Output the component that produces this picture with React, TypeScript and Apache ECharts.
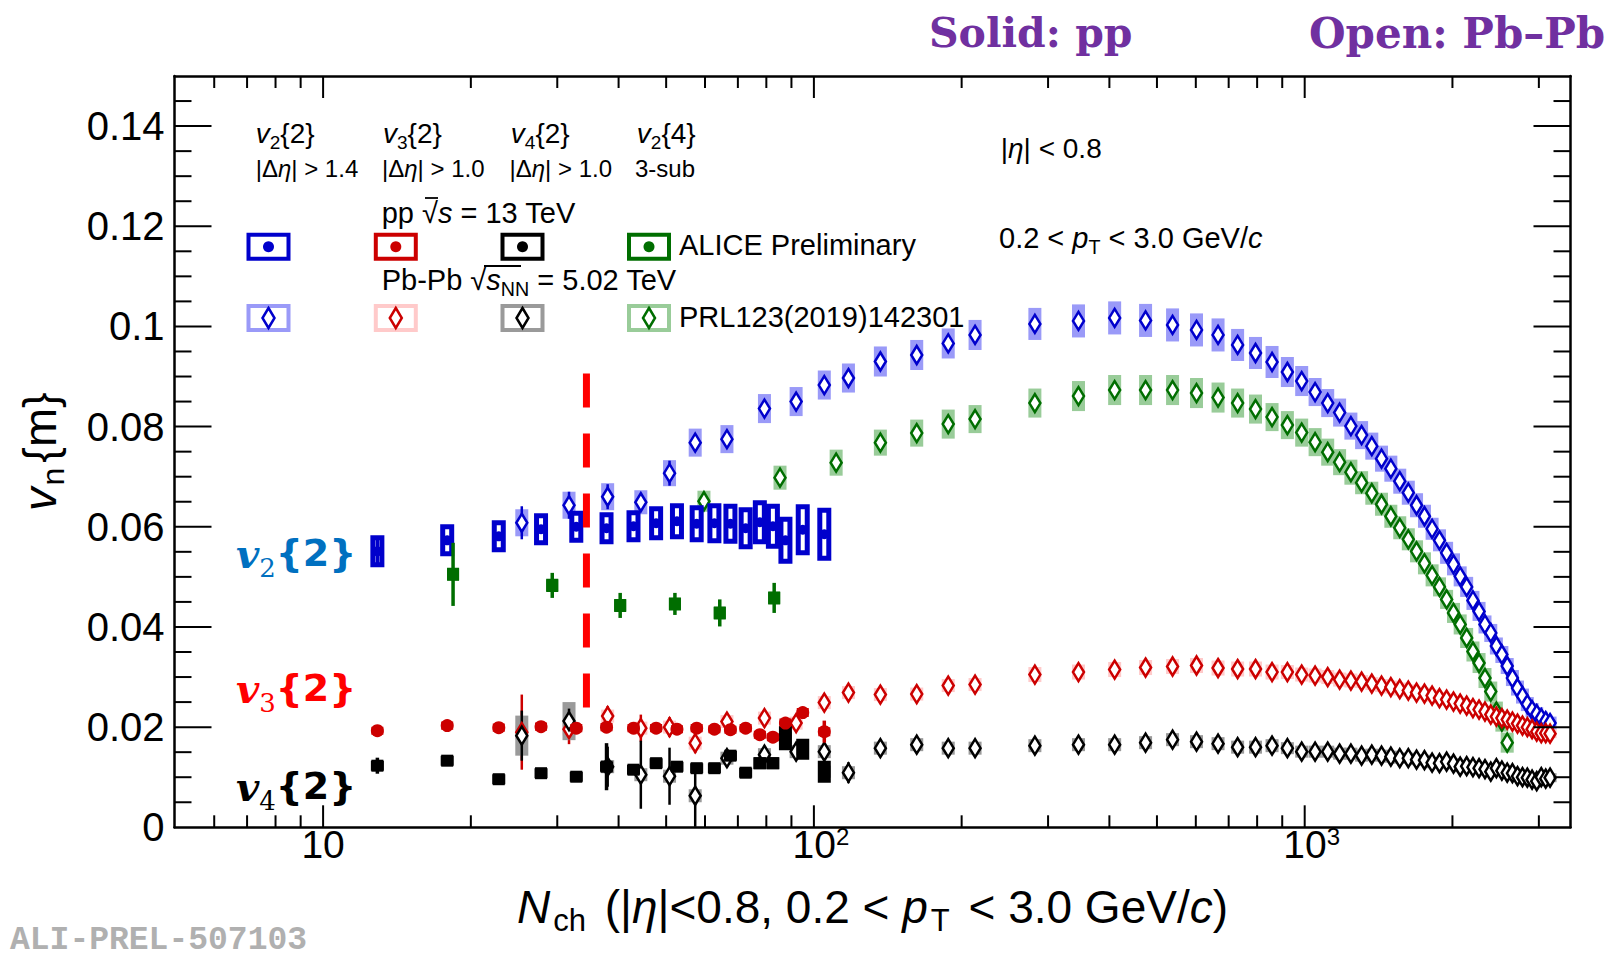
import { useEffect, useRef } from 'react';
import * as echarts from 'echarts';

const SANS = '"Liberation Sans", Arial, Helvetica, sans-serif';

// axis ranges
const X_MIN = 4.98;
const X_MAX = 3480;
const Y_MAX = 0.15;

// tick positions
const xMajorTicks = [10, 100, 1000];
const xMinorTicks = [6, 7, 8, 9, 20, 30, 40, 50, 60, 70, 80, 90, 200, 300, 400, 500, 600, 700, 800, 900, 2000, 3000];
const yMajorTicks = [0.02, 0.04, 0.06, 0.08, 0.1, 0.12, 0.14];
const yMinorTicks = [0.005, 0.01, 0.015, 0.025, 0.03, 0.035, 0.045, 0.05, 0.055, 0.065, 0.07, 0.075, 0.085, 0.09, 0.095, 0.105, 0.11, 0.115, 0.125, 0.13, 0.135, 0.145];

// ---- pp, sqrt(s) = 13 TeV (ALICE Preliminary) ----
const ppN = [12.9, 17.9, 22.8, 27.8, 32.8, 37.8, 42.9, 47.7, 52.6, 57.7, 62.7, 67.6, 72.6, 77.6, 82.5, 87.5, 94.9, 105];
const ppV22 = [0.0551, 0.0573, 0.0581, 0.0595, 0.0600, 0.0597, 0.0601, 0.0607, 0.0611, 0.0606, 0.0607, 0.0606, 0.0597, 0.0609, 0.0601, 0.0573, 0.0594, 0.0585];
const ppV22Stat = [0.0025, 0.0008, 0.0008, 0.0008, 0.0008, 0.0008, 0.0008, 0.0008, 0.0008, 0.0008, 0.0008, 0.0008, 0.0008, 0.0008, 0.0008, 0.0008, 0.0008, 0.0008];
const ppV22Sys = [0.0027, 0.0027, 0.0027, 0.0027, 0.0027, 0.0027, 0.0027, 0.0029, 0.0031, 0.0032, 0.0035, 0.0035, 0.0037, 0.0039, 0.0040, 0.0042, 0.0046, 0.0048];

const ppV32 = [0.0193, 0.0203, 0.0199, 0.0201, 0.0198, 0.0200, 0.0198, 0.0198, 0.0196, 0.0198, 0.0196, 0.0195, 0.0198, 0.0185, 0.0180, 0.0208, 0.0229, 0.0191];
const ppV32Stat = [0.0005, 0.0005, 0.0005, 0.0005, 0.0005, 0.0005, 0.0005, 0.0005, 0.0005, 0.0005, 0.0005, 0.0005, 0.0005, 0.0005, 0.0005, 0.0010, 0.0010, 0.0022];
const ppV32Sys = [0.0005, 0.0005, 0.0005, 0.0005, 0.0005, 0.0005, 0.0005, 0.0005, 0.0005, 0.0005, 0.0005, 0.0005, 0.0005, 0.0005, 0.0005, 0.0006, 0.0006, 0.0006];

const ppV42 = [0.0123, 0.0133, 0.0096, 0.0108, 0.0101, 0.0121, 0.0115, 0.0128, 0.0121, 0.0118, 0.0118, 0.0143, 0.0109, 0.0128, 0.0128, 0.0178, 0.0156, 0.0111];
const ppV42Stat = [0.0016, 0.0006, 0.0006, 0.0006, 0.0006, 0.0047, 0.0006, 0.0008, 0.0006, 0.0006, 0.0006, 0.0008, 0.0006, 0.0006, 0.0006, 0.0006, 0.0006, 0.0020];
const ppV42Sys = [0.0006, 0.0006, 0.0006, 0.0006, 0.0006, 0.0006, 0.0006, 0.0006, 0.0006, 0.0006, 0.0006, 0.0006, 0.0006, 0.0008, 0.0008, 0.0020, 0.0017, 0.0018];

const ppV24N = [18.4, 29.3, 40.3, 52.1, 64.3, 83.0];
const ppV24 = [0.0505, 0.0483, 0.0443, 0.0446, 0.0428, 0.0458];
const ppV24Stat = [0.0063, 0.0025, 0.0025, 0.0022, 0.0027, 0.0030];
const ppV24Sys = [0.0010, 0.0010, 0.0010, 0.0010, 0.0010, 0.0010];

// ---- Pb-Pb, sqrt(s_NN) = 5.02 TeV, PRL123(2019)142301 ----
const pbN = [
  25.4, 31.7, 38.0, 44.4, 50.8, 57.3, 66.5, 79.3, 92.0, 105, 117.6, 136.6, 162, 187.8, 213,
  282, 346, 410, 474, 538, 602, 666, 730, 794, 858,
  922, 986, 1050, 1114, 1178, 1242, 1306, 1370, 1434, 1498,
  1562, 1626, 1690, 1754, 1818, 1882, 1946, 2010, 2074, 2138,
  2202, 2266, 2330, 2394, 2458, 2522, 2586, 2650, 2714, 2778,
  2842, 2906, 2970, 3034, 3098, 3162,
];
const pbV22 = [
  0.0608, 0.0643, 0.0660, 0.0649, 0.0707, 0.0768, 0.0775, 0.0836, 0.0850, 0.0883, 0.0897, 0.0930, 0.0943, 0.0966, 0.0983,
  0.1005, 0.1011, 0.1017, 0.1012, 0.1003, 0.0993, 0.0983, 0.0963, 0.0947, 0.0929,
  0.0909, 0.0891, 0.0869, 0.0847, 0.0828, 0.0801, 0.0783, 0.0761, 0.0736, 0.0716,
  0.0691, 0.0668, 0.0643, 0.0621, 0.0596, 0.0573, 0.0548, 0.0525, 0.0501, 0.0480,
  0.0453, 0.0431, 0.0405, 0.0388, 0.0362, 0.0345, 0.0322, 0.0298, 0.0278, 0.0262,
  0.0246, 0.0234, 0.0226, 0.0218, 0.0212, 0.0208,
];
const pbV22StatLow = [0.0033, 0.0027, 0.0025, 0.0012, 0.0025, 0.0012, 0.0010, 0.0010, 0.0010, 0.0010, 0.0010, 0.0008, 0.0008, 0.0008, 0.0008];
const pbV22Sys = [
  0.0027, 0.0027, 0.0027, 0.0024, 0.0026, 0.0028, 0.0028, 0.0029, 0.0029, 0.0029, 0.0029, 0.0030, 0.0030, 0.0030, 0.0030,
  0.0032, 0.0033, 0.0033, 0.0033, 0.0033, 0.0033, 0.0033, 0.0032, 0.0032, 0.0032,
  0.0030, 0.0030, 0.0028, 0.0028, 0.0028, 0.0027, 0.0028, 0.0027, 0.0026, 0.0026,
  0.0025, 0.0024, 0.0024, 0.0023, 0.0022, 0.0022, 0.0022, 0.0022, 0.0020, 0.0020,
  0.0019, 0.0019, 0.0018, 0.0018, 0.0017, 0.0017, 0.0016, 0.0016, 0.0015, 0.0015,
  0.0014, 0.0014, 0.0014, 0.0013, 0.0013, 0.0013,
];
const pbV32 = [
  0.0190, 0.0196, 0.0222, 0.0198, 0.0200, 0.0168, 0.0211, 0.0218, 0.0208, 0.0249, 0.0269, 0.0265, 0.0266, 0.0283, 0.0285,
  0.0305, 0.0310, 0.0315, 0.0319, 0.0321, 0.0323, 0.0318, 0.0316, 0.0316, 0.0310,
  0.0310, 0.0305, 0.0303, 0.0300, 0.0295, 0.0293, 0.0291, 0.0287, 0.0283, 0.0280,
  0.0276, 0.0273, 0.0269, 0.0267, 0.0263, 0.0258, 0.0255, 0.0251, 0.0247, 0.0243,
  0.0238, 0.0235, 0.0231, 0.0225, 0.0221, 0.0218, 0.0215, 0.0211, 0.0207, 0.0203,
  0.0200, 0.0196, 0.0191, 0.0188, 0.0188, 0.0187,
];
const pbV32StatLow = [0.0075, 0.0030, 0.0020, 0.0027, 0.0020, 0.0020, 0.0012, 0.0010, 0.0010, 0.0010, 0.0008, 0.0005, 0.0005, 0.0005, 0.0005];
const pbV32Sys = [
  0.0013, 0.0013, 0.0013, 0.0013, 0.0013, 0.0013, 0.0013, 0.0013, 0.0013, 0.0013, 0.0013, 0.0013, 0.0013, 0.0013, 0.0013,
  0.0015, 0.0015, 0.0015, 0.0015, 0.0015, 0.0015, 0.0015, 0.0015, 0.0015, 0.0015,
  0.0014, 0.0014, 0.0014, 0.0014, 0.0014, 0.0014, 0.0013, 0.0013, 0.0013, 0.0013,
  0.0013, 0.0012, 0.0012, 0.0012, 0.0012, 0.0012, 0.0012, 0.0011, 0.0011, 0.0011,
  0.0011, 0.0011, 0.0011, 0.0010, 0.0010, 0.0010, 0.0010, 0.0010, 0.0010, 0.0010,
  0.0009, 0.0009, 0.0009, 0.0009, 0.0009, 0.0009,
];
const pbV42 = [
  0.0183, 0.0212, 0.0121, 0.0105, 0.0102, 0.0063, 0.0138, 0.0145, 0.0151, 0.0151, 0.0109, 0.0158, 0.0165, 0.0158, 0.0158,
  0.0163, 0.0165, 0.0165, 0.0169, 0.0175, 0.0171, 0.0167, 0.0160, 0.0160, 0.0163,
  0.0158, 0.0151, 0.0151, 0.0151, 0.0147, 0.0147, 0.0143, 0.0145, 0.0143, 0.0141,
  0.0138, 0.0138, 0.0135, 0.0134, 0.0129, 0.0128, 0.0131, 0.0127, 0.0121, 0.0122,
  0.0120, 0.0118, 0.0116, 0.0111, 0.0118, 0.0113, 0.0109, 0.0108, 0.0102, 0.0100,
  0.0099, 0.0095, 0.0092, 0.0100, 0.0097, 0.0099,
];
const pbV42StatLow = [0.0050, 0.0025, 0.0040, 0.0068, 0.0057, 0.0062, 0.0018, 0.0015, 0.0010, 0.0010, 0.0021, 0.0006, 0.0006, 0.0006, 0.0006];
const pbV42Sys = [
  0.0040, 0.0038, 0.0013, 0.0013, 0.0013, 0.0013, 0.0013, 0.0013, 0.0013, 0.0013, 0.0013, 0.0013, 0.0013, 0.0013, 0.0013,
  0.0013, 0.0013, 0.0013, 0.0013, 0.0013, 0.0013, 0.0013, 0.0013, 0.0013, 0.0013,
  0.0012, 0.0012, 0.0012, 0.0012, 0.0012, 0.0012, 0.0012, 0.0012, 0.0012, 0.0012,
  0.0011, 0.0011, 0.0011, 0.0011, 0.0011, 0.0011, 0.0011, 0.0011, 0.0011, 0.0011,
  0.0010, 0.0010, 0.0010, 0.0010, 0.0010, 0.0010, 0.0010, 0.0010, 0.0010, 0.0010,
  0.0009, 0.0009, 0.0009, 0.0009, 0.0009, 0.0009,
];
const pbV24N = [
  59.7, 85.3, 111, 136.6, 162, 187.8, 213,
  282, 346, 410, 474, 538, 602, 666, 730, 794, 858,
  922, 986, 1050, 1114, 1178, 1242, 1306, 1370, 1434, 1498,
  1562, 1626, 1690, 1754, 1818, 1882, 1946, 2010, 2074, 2138,
  2202, 2266, 2330, 2394, 2458, 2522, 2586,
];
const pbV24 = [
  0.0651, 0.0698, 0.0728, 0.0768, 0.0787, 0.0805, 0.0815,
  0.0847, 0.0861, 0.0873, 0.0873, 0.0873, 0.0867, 0.0858, 0.0847, 0.0835, 0.0819,
  0.0803, 0.0788, 0.0769, 0.0749, 0.0729, 0.0709, 0.0688, 0.0667, 0.0645, 0.0621,
  0.0598, 0.0575, 0.0551, 0.0527, 0.0503, 0.0480, 0.0455, 0.0428, 0.0405, 0.0378,
  0.0351, 0.0328, 0.0298, 0.0271, 0.0231, 0.0211, 0.0169,
];
const pbV24StatLow = [0.0010, 0.0012, 0.0010, 0.0008, 0.0008, 0.0008, 0.0008];
const pbV24Sys = [
  0.0021, 0.0024, 0.0026, 0.0026, 0.0027, 0.0029, 0.0028,
  0.0029, 0.0030, 0.0030, 0.0030, 0.0030, 0.0030, 0.0030, 0.0029, 0.0029, 0.0028,
  0.0028, 0.0028, 0.0028, 0.0027, 0.0026, 0.0025, 0.0023, 0.0023, 0.0023, 0.0023,
  0.0023, 0.0022, 0.0022, 0.0022, 0.0022, 0.0019, 0.0019, 0.0020, 0.0020, 0.0020,
  0.0020, 0.0020, 0.0020, 0.0020, 0.0020, 0.0020, 0.0020,
];

// vertical marker line (dashed, red)
const cutN = [34.4, 34.4];
const cutV = [0.0906, 0.0231];

const C = {
  blue: '#0000cc', blueBox: '#9a9af8', blueText: '#0070c0',
  red: '#cc0000', redBox: '#ffcaca', redText: '#ff0000',
  black: '#000000', grayBox: '#9a9a9a',
  green: '#006e00', greenBox: '#99cc99',
  purple: '#7030a0',
};

type Pt = [number, number, number, number];
const zip = (n: number[], v: number[], st: number[], sy: number[]): Pt[] =>
  n.map((x, i) => [x, v[i], st[i] ?? 0, sy[i] ?? 0]);

function boxSeries(name: string, data: Pt[], o: any) {
  return {
    type: 'custom', name, data, silent: true, encode: { x: 0, y: 1 },
    renderItem: (_p: any, api: any) => {
      const n = api.value(0), v = api.value(1), st = api.value(2), sy = api.value(3);
      const c = api.coord([n, v]);
      const children: any[] = [];
      if (sy > 0) {
        const yt = api.coord([n, v + sy])[1];
        const yb = api.coord([n, v - sy])[1];
        children.push({
          type: 'rect',
          shape: { x: c[0] - o.w / 2, y: yt, width: o.w, height: yb - yt },
          style: { fill: o.fill, stroke: o.stroke || 'none', lineWidth: o.lineWidth || 0 },
        });
      }
      if (st > 0) {
        const yt = api.coord([n, v + st])[1];
        const yb = api.coord([n, Math.max(v - st, 0)])[1];
        children.push({ type: 'line', shape: { x1: c[0], y1: yt, x2: c[0], y2: yb }, style: { stroke: o.bar, lineWidth: o.barWidth } });
      }
      return { type: 'group', children };
    },
  };
}

function markerSeries(name: string, data: Pt[], shape: string, o: any) {
  return {
    type: 'custom', name, data, silent: true, encode: { x: 0, y: 1 },
    renderItem: (_p: any, api: any) => {
      const c = api.coord([api.value(0), api.value(1)]);
      if (shape === 'diamond') {
        return {
          type: 'polygon',
          shape: { points: [[c[0], c[1] - o.h / 2], [c[0] + o.w / 2, c[1]], [c[0], c[1] + o.h / 2], [c[0] - o.w / 2, c[1]]] },
          style: { fill: '#ffffff', stroke: o.color, lineWidth: o.lw },
        };
      }
      if (shape === 'circle') {
        return { type: 'circle', shape: { cx: c[0], cy: c[1], r: o.r }, style: { fill: o.color } };
      }
      return { type: 'rect', shape: { x: c[0] - o.s / 2, y: c[1] - o.s / 2, width: o.s, height: o.s }, style: { fill: o.color } };
    },
  };
}

function tickSeries(data: number[][], dir: 'x' | 'y') {
  return {
    type: 'custom', silent: true, z: 5, data, encode: { x: 0, y: 1 },
    renderItem: (params: any, api: any) => {
      const cs = params.coordSys;
      const major = api.value(2) === 1;
      const st = { stroke: '#000', lineWidth: 2 };
      if (dir === 'x') {
        const px = api.coord([api.value(0), 0.05])[0];
        const len = major ? 22 : 12;
        return {
          type: 'group', children: [
            { type: 'line', shape: { x1: px, y1: cs.y + cs.height, x2: px, y2: cs.y + cs.height - len }, style: st },
            { type: 'line', shape: { x1: px, y1: cs.y, x2: px, y2: cs.y + len }, style: st },
          ],
        };
      }
      const py = api.coord([10, api.value(1)])[1];
      const len = major ? 37 : 17;
      return {
        type: 'group', children: [
          { type: 'line', shape: { x1: cs.x, y1: py, x2: cs.x + len, y2: py }, style: st },
          { type: 'line', shape: { x1: cs.x + cs.width, y1: py, x2: cs.x + cs.width - len, y2: py }, style: st },
        ],
      };
    },
  };
}

// ROOT-like rich text styles
const latexRich = (fs: number, fill = '#000') => ({
  i: { fontFamily: SANS, fontStyle: 'italic', fontSize: fs, lineHeight: fs * 1.3, fill },
  s: { fontFamily: SANS, fontSize: fs * 0.68, lineHeight: fs * 0.62, verticalAlign: 'bottom', fill },
});

const text = (x: number, y: number, str: string, style: any = {}) => ({
  type: 'text', x, y, silent: true, z: 10,
  style: {
    text: str, fontFamily: SANS, fontSize: 29, fill: '#000', align: 'left', verticalAlign: 'middle',
    lineHeight: 38, rich: latexRich(style.fontSize || 29, style.fill || '#000'), ...style,
  },
});

const overbar = (x1: number, x2: number, y: number) => ({
  type: 'line', silent: true, z: 10, shape: { x1, y1: y, x2, y2: y }, style: { stroke: '#000', lineWidth: 1.8 },
});

const legendBox = (cx: number, cy: number, stroke: string) => ({
  type: 'rect', z: 10, silent: true, shape: { x: cx - 20, y: cy - 12, width: 40, height: 24 },
  style: { fill: '#fff', stroke, lineWidth: 4 },
});
const legendDot = (cx: number, cy: number, fill: string) => ({
  type: 'circle', z: 11, silent: true, shape: { cx, cy, r: 5.5 }, style: { fill },
});
const legendDiamond = (cx: number, cy: number, stroke: string) => ({
  type: 'polygon', z: 11, silent: true,
  shape: { points: [[cx, cy - 10], [cx + 6, cy], [cx, cy + 10], [cx - 6, cy]] },
  style: { fill: '#fff', stroke, lineWidth: 2.5 },
});

const bigLabel = (y: number, sub: string, color: string) => ({
  type: 'text', x: 236, y, silent: true, z: 10,
  style: {
    text: `{v|v}{s|${sub}}{2}`,
    fontFamily: '"DejaVu Sans", sans-serif', fontWeight: 'bold', fontSize: 38, lineHeight: 56,
    fill: color, align: 'left', verticalAlign: 'middle',
    rich: {
      v: { fontFamily: '"DejaVu Serif", serif', fontStyle: 'italic', fontWeight: 'bold', fontSize: 40, lineHeight: 56, fill: color },
      s: { fontFamily: '"DejaVu Serif", serif', fontSize: 26, lineHeight: 30, verticalAlign: 'bottom', fill: color },
    },
  },
});

export default function App() {
  const ref = useRef<HTMLDivElement>(null);

  useEffect(() => {
    if (!ref.current) return;
    const chart = echarts.init(ref.current, null, { renderer: 'svg' });

    const xTicks = [
      ...xMajorTicks.map((t) => [t, 0.05, 1]),
      ...xMinorTicks.map((t) => [t, 0.05, 0]),
    ];
    const yTicks = [
      ...yMajorTicks.map((t) => [10, t, 1]),
      ...yMinorTicks.map((t) => [10, t, 0]),
    ];

    const pbStat = (low: number[]) => pbN.map((_, i) => low[i] ?? 0);

    const pbV22Pts = zip(pbN, pbV22, pbStat(pbV22StatLow), pbV22Sys);
    const pbV32Pts = zip(pbN, pbV32, pbStat(pbV32StatLow), pbV32Sys);
    const pbV42Pts = zip(pbN, pbV42, pbStat(pbV42StatLow), pbV42Sys);
    const pbV24Pts = zip(pbV24N, pbV24, pbV24N.map((_, i) => pbV24StatLow[i] ?? 0), pbV24Sys);

    const ppV22Pts = zip(ppN, ppV22, ppV22Stat, ppV22Sys);
    const ppV32Pts = zip(ppN, ppV32, ppV32Stat, ppV32Sys);
    const ppV42Pts = zip(ppN, ppV42, ppV42Stat, ppV42Sys);
    const ppV24Pts = zip(ppV24N, ppV24, ppV24Stat, ppV24Sys);

    const dia = (color: string) => ({ w: 11, h: 18, lw: 2.5, color });

    const option: any = {
      animation: false,
      backgroundColor: '#ffffff',
      grid: { left: 174.5, right: 43.5, top: 76, bottom: 131.7, outerBoundsMode: 'none' },
      xAxis: [
        {
          type: 'log', logBase: 10, min: X_MIN, max: X_MAX, position: 'bottom',
          splitLine: { show: false }, axisTick: { show: false },
          axisLine: { show: true, onZero: false, lineStyle: { color: '#000', width: 2.5 } },
          axisLabel: {
            color: '#000', fontFamily: SANS, fontSize: 39, lineHeight: 40, margin: -3,
            formatter: (v: number) => {
              const l = Math.log10(v);
              const e = Math.round(l);
              if (Math.abs(l - e) > 1e-6) return '';
              if (e === 1) return '10';
              return `{b|10}{p|${e}}`;
            },
            rich: {
              b: { fontFamily: SANS, fontSize: 39, lineHeight: 40, color: '#000', padding: [0, 0, 0, 14] },
              p: { fontFamily: SANS, fontSize: 24, lineHeight: 22, verticalAlign: 'top', color: '#000' },
            },
          },
          name: '{i|N}{s|ch} (|{i|η}|<0.8, 0.2 < {i|p}{s|T} < 3.0 GeV/{i|c})',
          nameLocation: 'middle', nameGap: 51,
          nameTextStyle: {
            color: '#000', fontFamily: SANS, fontSize: 46, lineHeight: 58,
            rich: {
              i: { fontFamily: SANS, fontStyle: 'italic', fontSize: 46, lineHeight: 58, color: '#000' },
              s: { fontFamily: SANS, fontSize: 31, lineHeight: 26, verticalAlign: 'bottom', color: '#000', padding: [0, 6, 0, 3] },
            },
          },
        },
        {
          type: 'log', logBase: 10, min: X_MIN, max: X_MAX, position: 'top',
          splitLine: { show: false }, axisTick: { show: false }, axisLabel: { show: false },
          axisLine: { show: true, onZero: false, lineStyle: { color: '#000', width: 2.5 } },
        },
      ],
      yAxis: [
        {
          type: 'value', min: 0, max: Y_MAX, interval: 0.02, position: 'left',
          splitLine: { show: false }, axisTick: { show: false },
          axisLine: { show: true, onZero: false, lineStyle: { color: '#000', width: 2.5 } },
          axisLabel: {
            color: '#000', fontFamily: SANS, fontSize: 40, margin: 10,
            formatter: (v: number) => (v > 0.145 ? '' : String(+v.toFixed(2))),
          },
          name: '{i|v}{s|n}{m}',
          nameLocation: 'middle', nameRotate: 90, nameGap: 106,
          nameTextStyle: {
            color: '#000', fontFamily: SANS, fontSize: 47, lineHeight: 58,
            rich: {
              i: { fontFamily: SANS, fontStyle: 'italic', fontSize: 47, lineHeight: 58, color: '#000' },
              s: { fontFamily: SANS, fontSize: 32, lineHeight: 26, verticalAlign: 'bottom', color: '#000', padding: [0, 5, 0, 2] },
            },
          },
        },
        {
          type: 'value', min: 0, max: Y_MAX, position: 'right',
          splitLine: { show: false }, axisTick: { show: false }, axisLabel: { show: false },
          axisLine: { show: true, onZero: false, lineStyle: { color: '#000', width: 2.5 } },
        },
      ],
      series: [
        // Pb-Pb systematic boxes and statistical bars
        boxSeries('Pb-Pb v2{2} sys', pbV22Pts, { w: 13, fill: C.blueBox, bar: C.blue, barWidth: 2.5 }),
        boxSeries('Pb-Pb v2{4} sys', pbV24Pts, { w: 13, fill: C.greenBox, bar: C.green, barWidth: 2.5 }),
        boxSeries('Pb-Pb v3{2} sys', pbV32Pts, { w: 13, fill: C.redBox, bar: C.red, barWidth: 2.5 }),
        boxSeries('Pb-Pb v4{2} sys', pbV42Pts, { w: 13, fill: C.grayBox, bar: C.black, barWidth: 2.5 }),
        // Pb-Pb open diamonds
        markerSeries('Pb-Pb v2{2}', pbV22Pts, 'diamond', dia(C.blue)),
        markerSeries('Pb-Pb v2{4}', pbV24Pts, 'diamond', dia(C.green)),
        markerSeries('Pb-Pb v3{2}', pbV32Pts, 'diamond', dia(C.red)),
        markerSeries('Pb-Pb v4{2}', pbV42Pts, 'diamond', dia(C.black)),
        // pp boxes and bars
        boxSeries('pp v2{2} sys', ppV22Pts, { w: 9, fill: '#ffffff', stroke: C.blue, lineWidth: 5, bar: C.blue, barWidth: 3.5 }),
        boxSeries('pp v2{4} sys', ppV24Pts, { w: 9, fill: '#ffffff', stroke: C.green, lineWidth: 3, bar: C.green, barWidth: 3.5 }),
        boxSeries('pp v3{2} sys', ppV32Pts, { w: 9, fill: '#ffffff', stroke: C.red, lineWidth: 3, bar: C.red, barWidth: 3.5 }),
        boxSeries('pp v4{2} sys', ppV42Pts, { w: 9, fill: C.black, stroke: C.black, lineWidth: 4, bar: C.black, barWidth: 3.5 }),
        // pp solid markers
        markerSeries('pp v2{2}', ppV22Pts, 'circle', { r: 5, color: C.blue }),
        markerSeries('pp v2{4}', ppV24Pts, 'square', { s: 12, color: C.green }),
        markerSeries('pp v3{2}', ppV32Pts, 'circle', { r: 6.5, color: C.red }),
        markerSeries('pp v4{2}', ppV42Pts, 'square', { s: 12, color: C.black }),
        {
          type: 'line', name: 'cut', silent: true, z: 6,
          data: cutN.map((n, i) => [n, cutV[i]]),
          symbol: 'none',
          lineStyle: { color: '#ff0000', width: 7, type: [34, 26], cap: 'butt' },
        },
        tickSeries(xTicks, 'x'),
        tickSeries(yTicks, 'y'),
      ],
      graphic: [
        // headers
        { type: 'text', x: 929, y: 33, silent: true, style: { text: 'Solid: pp', fontFamily: '"DejaVu Serif", serif', fontWeight: 'bold', fontSize: 41, fill: C.purple, align: 'left', verticalAlign: 'middle' } },
        { type: 'text', x: 1309, y: 33, silent: true, style: { text: 'Open: Pb–Pb', fontFamily: '"DejaVu Serif", serif', fontWeight: 'bold', fontSize: 42, fill: C.purple, align: 'left', verticalAlign: 'middle' } },
        { type: 'text', x: 10, y: 940, silent: true, style: { text: 'ALI-PREL-507103', fontFamily: '"Liberation Mono", "DejaVu Sans Mono", monospace', fontWeight: 'bold', fontSize: 33, lineHeight: 34, fill: '#b0b0b0', align: 'left', verticalAlign: 'middle' } },

        // legend column headers
        text(255.7, 133, '{i|v}{s|2}{2}', { fontSize: 28 }),
        text(383, 133, '{i|v}{s|3}{2}', { fontSize: 28 }),
        text(510.8, 133, '{i|v}{s|4}{2}', { fontSize: 28 }),
        text(636.8, 133, '{i|v}{s|2}{4}', { fontSize: 28 }),
        text(255.7, 168, '|Δ{i|η}| > 1.4', { fontSize: 24 }),
        text(382, 168, '|Δ{i|η}| > 1.0', { fontSize: 24 }),
        text(509.5, 168, '|Δ{i|η}| > 1.0', { fontSize: 24 }),
        text(635, 168, '3-sub', { fontSize: 24 }),

        text(381.7, 213, 'pp √{i|s} = 13 TeV'),
        overbar(425, 438, 198),
        text(381.7, 280, 'Pb-Pb √{i|s}{s|NN} = 5.02 TeV'),
        overbar(484, 521, 266),
        text(679, 245, 'ALICE Preliminary'),
        text(679, 317, 'PRL123(2019)142301'),
        text(1000.8, 148, '|{i|η}| < 0.8', { fontSize: 28 }),
        text(999, 238, '0.2 < {i|p}{s|T} < 3.0 GeV/{i|c}'),

        // legend boxes: pp row
        legendBox(268.5, 246.7, C.blue), legendDot(268.5, 246.7, C.blue),
        legendBox(395.8, 246.7, C.red), legendDot(395.8, 246.7, C.red),
        legendBox(522.5, 246.7, C.black), legendDot(522.5, 246.7, C.black),
        legendBox(649, 246.7, C.green), legendDot(649, 246.7, C.green),
        // legend boxes: Pb-Pb row
        legendBox(268.5, 318, C.blueBox), legendDiamond(268.5, 318, C.blue),
        legendBox(395.8, 318, C.redBox), legendDiamond(395.8, 318, C.red),
        legendBox(522.5, 318, C.grayBox), legendDiamond(522.5, 318, C.black),
        legendBox(649, 318, C.greenBox), legendDiamond(649, 318, C.green),

        // harmonic labels at the left
        bigLabel(553, '2', C.blueText),
        bigLabel(688, '3', C.redText),
        bigLabel(786, '4', C.black),
      ],
    };

    chart.setOption(option);
    return () => chart.dispose();
  }, []);

  return (
    <div
      ref={ref}
      style={{ position: 'fixed', left: 0, top: 0, width: '1614px', height: '959px', background: '#fff' }}
    />
  );
}
